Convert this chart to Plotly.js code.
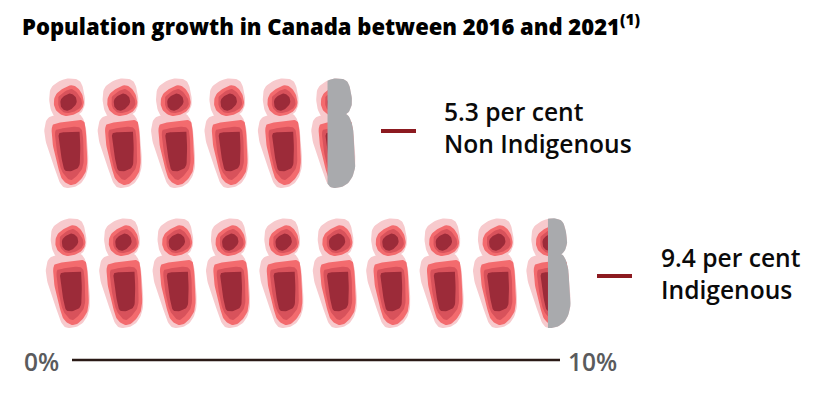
<!DOCTYPE html>
<html><head><meta charset="utf-8">
<script src="https://cdn.plot.ly/plotly-3.0.1.min.js"></script>
<style>html,body{margin:0;padding:0;background:#fff}</style></head>
<body><div id="chart" style="width:827px;height:405px"></div>
<script>
const titleText = "Population growth in Canada between 2016 and 2021<sup>(1)</sup>";
const categories = ["Non Indigenous", "Indigenous"];
const values = [5.3, 9.4];
const valueLabels = ["5.3 per cent", "9.4 per cent"];
const scaleLabels = ["0%", "10%"];

// figure geometry, px
const W = 827, H = 405, UNIT = 53.4, X0 = 44.5;
const rowDx = [0, 1.5], rowTop = [79, 219];
const labelX = [441.5, 658.5], labelY = [128, 273];
const leader = [[381, 416, 131], [597, 632, 276]];

// icon outlines: [x,y] px relative to the icon's top-left corner ×3
const headOuter = [[55,2],[90,-1],[110,12],[120,50],[120,80],[105,105],[65,115],[30,112],[15,72],[20,27]];
const bodyOuter = [[15,114],[65,106],[105,106],[122,137],[127,180],[131,262],[112,310],[75,327],[50,317],[30,267],[5,192],[0,147]];
const head2 = [[38,42],[80,19],[108,37],[118,72],[104,98],[67,111],[38,98],[28,72]];
const body2 = [[22,147],[33,134],[75,127],[112,124],[123,148],[128,252],[116,292],[85,318],[55,303],[40,262],[25,197]];
const head3 = [[45,50],[80,30],[106,52],[112,77],[97,94],[65,102],[45,88],[41,67]];
const body3 = [[32,158],[42,151],[80,144],[106,146],[115,170],[117,252],[103,283],[80,303],[60,288],[47,262],[35,202]];
const head4 = [[50,60],[73,44],[92,52],[96,72],[82,89],[65,95],[50,84]];
const body4 = [[42,170],[48,161],[75,159],[100,158],[106,168],[106,252],[91,272],[65,276],[55,257],[45,197]];

const layers = [
  {color:"#f7cacd", parts:[headOuter, bodyOuter]},
  {color:"#f36b6e", parts:[head2, body2]},
  {color:"#d8525b", parts:[head3, body3]},
  {color:"#9c2b39", parts:[head4, body4]}
];
const GREY = "#a9aaad";

function smooth(p){
  const out=[], n=p.length;
  for(let i=0;i<n;i++){
    const a=p[(i-1+n)%n], b=p[i], c=p[(i+1)%n], d=p[(i+2)%n];
    for(let k=0;k<8;k++){
      const t=k/8, t2=t*t, t3=t2*t;
      out.push([0,1].map(j=>0.5*(2*b[j]+(c[j]-a[j])*t+(2*a[j]-5*b[j]+4*c[j]-d[j])*t2+(3*b[j]-a[j]-3*c[j]+d[j])*t3)));
    }
  }
  return out;
}
function clipRight(p, cx){
  const out=[];
  for(let i=0;i<p.length;i++){
    const a=p[i], b=p[(i+1)%p.length], ia=a[0]>=cx, ib=b[0]>=cx;
    if(ia) out.push(a);
    if(ia!==ib){ const t=(cx-a[0])/(b[0]-a[0]); out.push([cx,a[1]+t*(b[1]-a[1])]); }
  }
  return out;
}
function place(part, col, row, xs, ys){
  // col is in chart units (one icon = one unit); outline offsets are px
  part.forEach(q=>{ xs.push(col + (rowDx[row] + q[0]/3)/UNIT); ys.push(rowTop[row] + q[1]/3); });
  if(part.length){ xs.push(col + (rowDx[row] + part[0][0]/3)/UNIT); ys.push(rowTop[row] + part[0][1]/3); }
  xs.push(null); ys.push(null);
}

const traces = layers.map(l=>{
  const xs=[], ys=[];
  values.forEach((v,row)=>{
    for(let c=0;c<Math.ceil(v);c++) l.parts.forEach(p=>place(smooth(p),c,row,xs,ys));
  });
  return {type:"scatter",mode:"lines",x:xs,y:ys,fill:"toself",fillcolor:l.color,line:{width:0,color:l.color},hoverinfo:"skip",showlegend:false};
});
// grey remainder of the last icon, from the value to the icon's right edge
const gx=[], gy=[];
values.forEach((v,row)=>{
  const c=Math.floor(v), cut=(v-c)*UNIT*3;
  [headOuter,bodyOuter].forEach(p=>place(clipRight(smooth(p),cut),c,row,gx,gy));
});
traces.push({type:"scatter",mode:"lines",x:gx,y:gy,fill:"toself",fillcolor:GREY,line:{width:0,color:GREY},hoverinfo:"skip",showlegend:false});

const annotations=[];
const txt=(text,x,y,size,color,anchor,weight)=>annotations.push({xref:"paper",yref:"paper",x:x/W,y:1-y/H,text,showarrow:false,xanchor:anchor,yanchor:"middle",align:"left",font:{family:'"Open Sans", sans-serif',size,color,weight}});
categories.forEach((c,i)=>{
  txt(valueLabels[i]+"<br>"+c,labelX[i],labelY[i],24.6,"#0a0a0a","left",600);
});
txt(scaleLabels[0],22,361,24.5,"#5a5b5d","left",600);
txt(scaleLabels[1],566,361,24.5,"#5a5b5d","left",600);

const shapes=leader.map(l=>({type:"line",xref:"paper",yref:"paper",x0:l[0]/W,x1:l[1]/W,y0:1-l[2]/H,y1:1-l[2]/H,line:{color:"#8c1a20",width:4}}));
shapes.push({type:"line",xref:"paper",yref:"paper",x0:72/W,x1:560/W,y0:1-360/H,y1:1-360/H,line:{color:"#2a1a16",width:2.5}});

Plotly.newPlot("chart",traces,{
  width:W,height:H,margin:{l:0,r:0,t:0,b:0},paper_bgcolor:"#fff",plot_bgcolor:"#fff",showlegend:false,
  title:{text:titleText,x:22/W,xanchor:"left",y:1-27/H,yanchor:"middle",font:{family:'"Open Sans", sans-serif',size:22,weight:800,color:"#000"}},
  xaxis:{range:[-X0/UNIT,(W-X0)/UNIT],visible:false,fixedrange:true},
  yaxis:{range:[H,0],visible:false,fixedrange:true},
  annotations,shapes
},{displayModeBar:false,staticPlot:true});
</script></body></html>
